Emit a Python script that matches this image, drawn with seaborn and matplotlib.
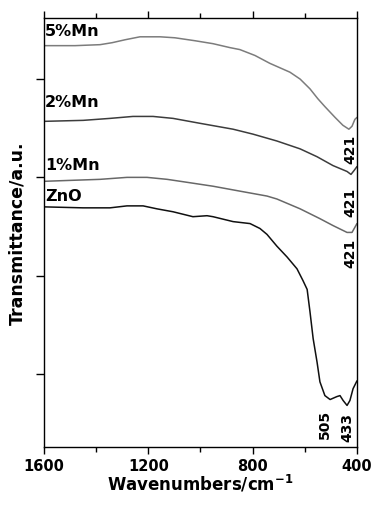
import matplotlib
matplotlib.use('Agg')
import matplotlib.pyplot as plt
from matplotlib.ticker import FixedLocator, NullFormatter
import numpy as np
import pandas as pd
import seaborn as sns

# ------------------------------------------------------------
#  Données (unités arbitraires en ordonnée)
# ------------------------------------------------------------
wn_5mn = [1600, 1481, 1385, 1339, 1289, 1232, 1155, 1098, 1021, 952, 887, 849, 791,
          734, 657, 618, 580, 550, 523, 484, 454, 431, 419, 408, 400]
t_5mn = [4.34, 4.34, 4.35, 4.37, 4.40, 4.43, 4.43, 4.42, 4.39, 4.36, 4.32, 4.30, 4.24,
         4.16, 4.07, 4.00, 3.90, 3.80, 3.72, 3.61, 3.53, 3.49, 3.52, 3.59, 3.61]

wn_2mn = [1600, 1450, 1347, 1259, 1182, 1105, 1002, 875, 799, 707, 618, 553, 492,
          438, 423, 411, 400]
t_2mn = [3.57, 3.58, 3.60, 3.62, 3.62, 3.60, 3.55, 3.49, 3.44, 3.37, 3.29, 3.21, 3.12,
         3.06, 3.03, 3.07, 3.11]

wn_1mn = [1600, 1385, 1282, 1205, 1128, 1052, 952, 849, 745, 707, 618, 542, 492,
          438, 419, 400]
t_1mn = [2.96, 2.98, 3.00, 3.00, 2.98, 2.95, 2.91, 2.86, 2.81, 2.78, 2.68, 2.58, 2.51,
         2.44, 2.44, 2.53]

wn_zno = [1600, 1450, 1347, 1282, 1220, 1167, 1105, 1029, 975, 952, 875, 810, 772,
          745, 707, 668, 630, 607, 591, 580, 568, 553, 542, 523, 503, 477, 465, 453,
          438, 427, 415, 400]
t_zno = [2.70, 2.69, 2.69, 2.71, 2.71, 2.68, 2.65, 2.60, 2.61, 2.60, 2.55, 2.53, 2.48,
         2.42, 2.30, 2.19, 2.07, 1.95, 1.86, 1.63, 1.36, 1.12, 0.92, 0.78, 0.74, 0.77,
         0.78, 0.73, 0.68, 0.73, 0.85, 0.93]

echantillons = ['5%Mn', '2%Mn', '1%Mn', 'ZnO']
couleurs = {'5%Mn': '#7c7c7c', '2%Mn': '#3c3c3c', '1%Mn': '#686868', 'ZnO': '#101010'}

# positions des étiquettes (x en cm-1, y en u.a.)
etiq_y = {'5%Mn': 4.49, '2%Mn': 3.77, '1%Mn': 3.13, 'ZnO': 2.82}
pics_txt = ['421', '421', '421', '505', '433']
pics_x = [427, 427, 427, 523, 438]
pics_y = [3.30, 2.76, 2.24, 0.50, 0.47]

# ------------------------------------------------------------
#  Tableau long pour seaborn
# ------------------------------------------------------------
frames = []
for nom, wn, t in zip(echantillons, [wn_5mn, wn_2mn, wn_1mn, wn_zno],
                      [t_5mn, t_2mn, t_1mn, t_zno]):
    frames.append(pd.DataFrame({'wn': wn, 't': t, 'echantillon': nom}))
df = pd.concat(frames, ignore_index=True)

sns.set_style('ticks')
plt.rcParams['font.family'] = ['DejaVu Sans']
plt.rcParams['font.weight'] = 'bold'
plt.rcParams['text.color'] = 'black'
plt.rcParams['axes.labelcolor'] = 'black'

fig = plt.figure(figsize=(3.73, 5.06), dpi=100)
ax = fig.add_axes([0.118, 0.1146, 0.839, 0.8476])

sns.lineplot(data=df, x='wn', y='t', hue='echantillon', palette=couleurs,
             hue_order=echantillons, linewidth=1.1, ax=ax, legend=False,
             estimator=None, sort=True)

ax.set_xlim(1600, 400)
ax.set_ylim(0.257, 4.62)

# axes / graduations
for sp in ax.spines.values():
    sp.set_visible(True)
    sp.set_color('black')
    sp.set_linewidth(1.0)

ax.xaxis.set_major_locator(FixedLocator([1600, 1200, 800, 400]))
ax.xaxis.set_minor_locator(FixedLocator([1400, 1000, 600]))
ax.yaxis.set_major_locator(FixedLocator([1, 2, 3, 4]))
ax.yaxis.set_major_formatter(NullFormatter())
ax.tick_params(axis='x', which='major', direction='out', length=5.2, width=1.0,
               top=True, bottom=True, labelsize=10.5, pad=2.5, colors='black')
ax.tick_params(axis='x', which='minor', direction='out', length=3.5, width=1.0,
               top=True, bottom=True, colors='black')
ax.tick_params(axis='y', which='major', direction='out', length=5.5, width=1.0,
               left=True, right=False, colors='black')
for lab in ax.get_xticklabels():
    lab.set_fontweight('bold')

ax.set_xlabel('Wavenumbers/cm$^{\\mathbf{-1}}$', fontsize=12, fontweight='bold', labelpad=0)
ax.set_ylabel('Transmittance/a.u.', fontsize=12.5, fontweight='bold')
ax.yaxis.set_label_coords(-0.055, 0.5)

# étiquettes des courbes
for nom in echantillons:
    ax.text(1596, etiq_y[nom], nom, fontsize=11.5, fontweight='bold',
            ha='left', va='center', color='black')

# positions des bandes
for txt, x, y in zip(pics_txt, pics_x, pics_y):
    ax.text(x, y, txt, fontsize=10, fontweight='bold', rotation=90,
            ha='center', va='center', color='black')

plt.savefig('out.png', dpi=100)
